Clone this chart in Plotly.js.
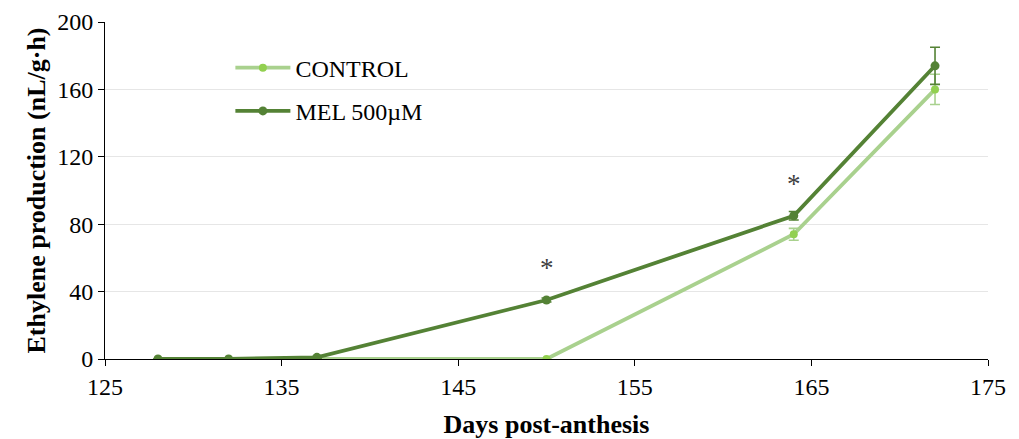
<!DOCTYPE html>
<html>
<head>
<meta charset="utf-8">
<script src="https://cdn.plot.ly/plotly-3.0.1.min.js"></script>
<style>html,body{margin:0;padding:0;background:#fff;}#chart{width:1019px;height:439px;}</style>
</head>
<body>
<div id="chart"></div>
<script>
const days = [128, 132, 137, 150, 164, 172];
const controlValues = [0, 0, 0, 0, 74, 160];
const controlErrors = [0, 0, 0, 0, 3.5, 9];
const melValues = [0, 0, 1, 35, 85, 174];
const melErrors = [0, 0, 0.5, 1.2, 2.5, 11];
const seriesNames = ["CONTROL", "MEL 500µM"];
const sigDays = [150, 164];
const sigY = [54, 104];
const xTicks = [125, 135, 145, 155, 165, 175];
const yTicks = [0, 40, 80, 120, 160, 200];

const font = "Liberation Serif, Times New Roman, serif";

const traces = [
  {
    x: days, y: controlValues, name: seriesNames[0], type: "scatter", mode: "lines+markers",
    legendgroup: "a",
    line: {color: "#a9d18e", width: 3.8},
    marker: {color: "#92d050", size: 8},
    error_y: {type: "data", array: controlErrors, visible: true, color: "#a9d18e", thickness: 1.6, width: 5}
  },
  {
    x: days, y: melValues, name: seriesNames[1], type: "scatter", mode: "lines+markers",
    legendgroup: "b",
    line: {color: "#548235", width: 3.8},
    marker: {color: "#548235", size: 9},
    error_y: {type: "data", array: melErrors, visible: true, color: "#548235", thickness: 1.6, width: 5}
  }
];

const annotations = sigDays.map((d, i) => ({
  x: d, y: sigY[i], xref: "x", yref: "y", text: "*", showarrow: false,
  font: {family: font, size: 27, color: "#404040"}
}));

const layout = {
  width: 1019, height: 439,
  margin: {l: 105, r: 31, t: 22, b: 80},
  paper_bgcolor: "#fff", plot_bgcolor: "#fff",
  font: {family: font, size: 23, color: "#000"},
  showlegend: true,
  legend: {
    x: 0.142, y: 0.93, xanchor: "left", yanchor: "top",
    traceorder: "grouped", tracegroupgap: 9, itemwidth: 55,
    font: {family: font, size: 24, color: "#000"},
    bgcolor: "rgba(0,0,0,0)"
  },
  xaxis: {
    range: [125, 175], tickvals: xTicks, ticktext: xTicks.map(String),
    showgrid: false, zeroline: false,
    showline: true, linecolor: "#000", linewidth: 1,
    ticks: "outside", ticklen: 6, tickcolor: "#000",
    tickfont: {family: font, size: 24, color: "#000"},
    title: {text: "<b>Days post-anthesis</b>", font: {family: font, size: 26, color: "#000"}, standoff: 16}
  },
  yaxis: {
    range: [0, 200], tickvals: yTicks, ticktext: yTicks.map(String),
    showgrid: true, gridcolor: "#e6e6e6", gridwidth: 1, zeroline: false,
    showline: true, linecolor: "#000", linewidth: 1,
    ticks: "outside", ticklen: 6, tickcolor: "#000",
    tickfont: {family: font, size: 24, color: "#000"},
    title: {text: "<b>Ethylene production (nL/g·h)</b>", font: {family: font, size: 26, color: "#000"}, standoff: 4}
  },
  annotations: annotations
};

Plotly.newPlot("chart", traces, layout, {displayModeBar: false, staticPlot: true});
</script>
</body>
</html>
